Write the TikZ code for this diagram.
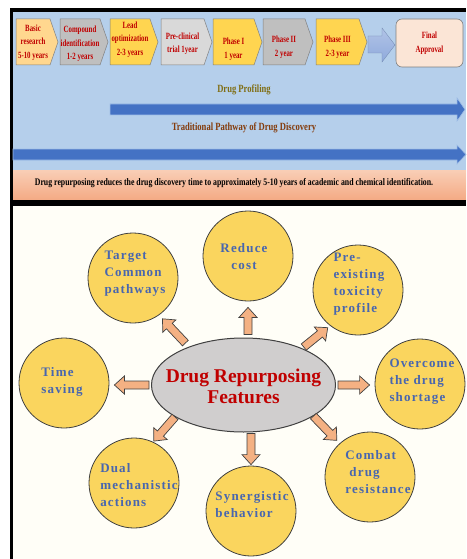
\documentclass[tikz,border=0pt]{standalone}
\usepackage{fontspec}
\setmainfont{Liberation Serif}
\newfontfamily\narrowfont[FakeStretch=0.78]{Liberation Serif}
\newfontfamily\stagefont[FakeStretch=0.72]{Liberation Serif}
\newfontfamily\spacedfont[LetterSpace=9]{Liberation Serif}
\usetikzlibrary{calc,shapes.geometric}

\definecolor{panelblue}{RGB}{181,207,235}
\definecolor{salmontop}{RGB}{249,206,182}
\definecolor{salmonbot}{RGB}{244,170,132}
\definecolor{cream}{RGB}{255,254,247}
\definecolor{stagered}{RGB}{192,0,0}
\definecolor{peach}{RGB}{255,215,143}
\definecolor{gold}{RGB}{255,213,80}
\definecolor{midgray}{RGB}{191,191,191}
\definecolor{lightgray}{RGB}{217,217,217}
\definecolor{approvalfill}{RGB}{251,229,214}
\definecolor{stepblue}{RGB}{143,170,220}
\definecolor{barblue}{RGB}{68,114,196}
\definecolor{baredge}{RGB}{160,190,230}
\definecolor{olivetext}{RGB}{128,110,20}
\definecolor{browntext}{RGB}{132,60,12}
\definecolor{featfill}{RGB}{250,213,94}
\definecolor{featline}{RGB}{64,64,64}
\definecolor{feattextcol}{RGB}{72,102,175}
\definecolor{hubfill}{RGB}{208,206,206}
\definecolor{arrowfill}{RGB}{244,177,131}

\tikzset{
  chevbox/.style={draw=gray, line width=0.5pt},
  chevtext/.style={font=\stagefont\bfseries\fontsize{9.5}{13.5}\selectfont,
    text=stagered, align=center, inner sep=0pt},
  bandtext/.style={font=\narrowfont\bfseries\fontsize{11}{13}\selectfont, inner sep=0pt},
  feat/.style={circle, minimum size=90pt, inner sep=0pt, fill=featfill,
    draw=featline, line width=0.8pt},
  feattext/.style={font=\spacedfont\bfseries\fontsize{13}{17}\selectfont,
    text=feattextcol, align=left, inner sep=0pt},
  hub/.style={ellipse, minimum width=184pt, minimum height=94pt, inner sep=0pt,
    fill=hubfill, draw=featline, line width=1pt},
  featarr/.style={fill=arrowfill, draw=featline, line width=0.7pt, line join=miter},
  bigbar/.style={fill=barblue, draw=baredge, line width=0.6pt},
}

% pentagon stage box: name, left x, tip x, fill, text y, text
\newcommand\stagebox[6]{%
  \filldraw[chevbox, fill=#4] (#2,19) -- (#3-8,19) -- (#3,42) -- (#3-8,65) -- (#2,65) -- cycle;
  \node[chevtext] (#1) at ({(#2+#3-8)/2},#5) {#6};
}

% block arrow from #1 to #2, pulled in by #3 at the tail and #4 at the head
\newcommand\featarrow[4]{%
  \coordinate (fa) at ($(#1)!#3!(#2)$);
  \coordinate (fb) at ($(#2)!#4!(#1)$);
  \coordinate (fn) at ($(fb)!10pt!(fa)$);
  \draw[featarr] ($(fa)!4pt!90:(fb)$) -- ($(fn)!4pt!-90:(fa)$)
    -- ($(fn)!9pt!-90:(fa)$) -- (fb) -- ($(fn)!9pt!90:(fa)$)
    -- ($(fn)!4pt!90:(fa)$) -- ($(fa)!4pt!-90:(fb)$) -- cycle;
}

\begin{document}
\begin{tikzpicture}[x=1pt,y=-1pt]
\useasboundingbox (0,0) rectangle (466,559);

% panels and frame
\fill[white] (0,0) rectangle (466,559);
\fill[panelblue] (13,12) rectangle (466,170);
\shade[top color=salmontop, bottom color=salmonbot] (13,170) rectangle (466,200);
\fill[cream] (13,206) rectangle (466,559);
\fill[black] (10,8) rectangle (466,12);
\fill[black] (10,8) rectangle (13,559);
\fill[black] (10,200) rectangle (466,206);

% development stages
\stagebox{s1}{16}{58}{peach}{42.5}{Basic\\research\\5-10 years}
\stagebox{s2}{60}{108}{midgray}{44}{Compound\\identification\\1-2 years}
\stagebox{s3}{110}{158}{gold}{39.5}{Lead\\optimization\\2-3 years}
\stagebox{s4}{161}{212}{lightgray}{43.5}{Pre-clinical\\trial 1year}
\stagebox{s5}{213}{262}{gold}{49}{Phase I\\1 year}
\stagebox{s6}{263}{313}{midgray}{47}{Phase II\\2 year}
\stagebox{s7}{316}{367}{gold}{47}{Phase III\\2-3 year}

% step arrow towards approval
\shade[top color=stepblue!70!white, bottom color=stepblue, draw=stepblue!80!black, line width=0.3pt]
  (368,36) -- (382,36) -- (382,28) -- (395,45) -- (382,62) -- (382,53) -- (368,53) -- cycle;

\node[draw=gray, line width=0.6pt, fill=approvalfill, rounded corners=6pt,
  minimum width=67pt, minimum height=48pt, inner sep=0pt] (fin) at (429.5,43) {};
\node[chevtext] at (fin) {Final\\Approval};

% timelines
\node[bandtext, text=olivetext] (prof) at (244,90) {Drug Profiling};
\coordinate (profA) at (110,109.5);
\coordinate (profB) at (465,109.5);
\draw[bigbar] (profA) ++(0,-5.5) -- ($(profB)+(-8,-5.5)$) -- ($(profB)+(-8,-11.5)$)
  -- (profB) -- ($(profB)+(-8,11.5)$) -- ($(profB)+(-8,5.5)$) -- ($(profA)+(0,5.5)$) -- cycle;

\node[bandtext, text=browntext] (trad) at (244,128) {Traditional Pathway of Drug Discovery};
\coordinate (tradA) at (13,154.5);
\coordinate (tradB) at (466,154.5);
\draw[bigbar] (tradA) ++(0,-5.5) -- ($(tradB)+(-9,-5.5)$) -- ($(tradB)+(-9,-9.5)$)
  -- (tradB) -- ($(tradB)+(-9,9.5)$) -- ($(tradB)+(-9,5.5)$) -- ($(tradA)+(0,5.5)$) -- cycle;

\node[font=\narrowfont\bfseries\fontsize{10}{12}\selectfont, inner sep=0pt] (note) at (234,183)
  {Drug repurposing reduces the drug discovery time to approximately 5-10 years of academic and chemical identification.};

% features of drug repurposing
\node[hub] (ell) at (243.5,385) {};
\node[font=\bfseries\fontsize{19.5}{21}\selectfont, text=stagered, align=center, inner sep=0pt]
  at (243.5,386) {Drug Repurposing\\Features};

\node[feat] (tc) at (133,278) {};
\node[feat] (rc) at (248,256) {};
\node[feat] (pe) at (358,290) {};
\node[feat] (ts) at (64,383) {};
\node[feat] (oc) at (420,384) {};
\node[feat] (dm) at (134,483) {};
\node[feat] (sb) at (251,511) {};
\node[feat] (cd) at (370,477) {};

\node[feattext] at ($(tc)+(2,-4)$) {Target\\Common\\pathways};
\node[feattext, align=center] at ($(rc)+(-4,0.5)$) {Reduce\\cost};
\node[feattext] at ($(pe)+(1,-5.5)$) {Pre-\\existing\\toxicity\\profile};
\node[feattext] at ($(ts)+(-2,-1)$) {Time\\saving};
\node[feattext] at ($(oc)+(2,-2)$) {Overcome\\the drug\\shortage};
\node[feattext] at ($(dm)+(5,2)$) {Dual\\mechanistic\\actions};
\node[feattext] at ($(sb)+(1,-6)$) {Synergistic\\behavior};
\node[feattext] at ($(cd)+(8,-5)$) {Combat\\\hspace*{4pt}drug\\resistance};

\coordinate (upA) at (rc.south |- ell.north);
\coordinate (dnA) at (sb.north |- ell.south);
\coordinate (ltB) at (ts.east |- ell.west);
\coordinate (rtB) at (oc.west |- ell.east);

\featarrow{upA}{rc.south}{3pt}{6pt}
\featarrow{ell.145}{tc.-55}{5pt}{5pt}
\featarrow{ell.32}{pe.-128}{2pt}{3pt}
\featarrow{ell.west}{ltB}{2pt}{5pt}
\featarrow{ell.east}{rtB}{2pt}{5pt}
\featarrow{ell.205}{dm.65}{0pt}{1pt}
\featarrow{dnA}{sb.north}{1pt}{1pt}
\featarrow{ell.-24}{cd.132}{0pt}{4pt}
\end{tikzpicture}
\end{document}
